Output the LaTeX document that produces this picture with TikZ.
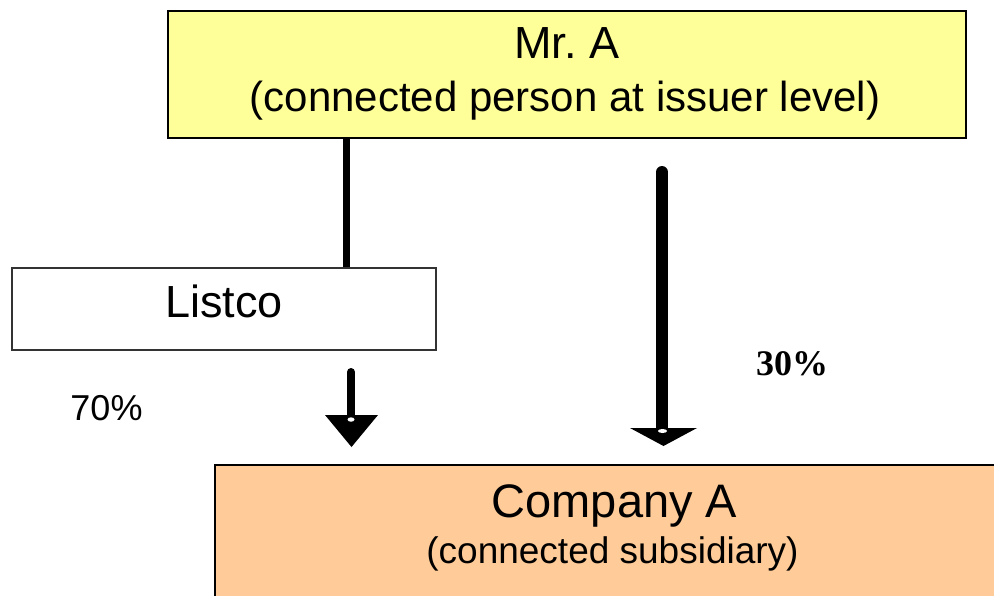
\documentclass[tikz,border=0pt]{standalone}
\usepackage{fontspec}
\setmainfont{Liberation Sans}
\newfontfamily\timesfont{Liberation Serif}
\definecolor{boxyellow}{HTML}{FFFF99}
\definecolor{boxorange}{HTML}{FFCC99}
\begin{document}
\begin{tikzpicture}[x=1pt,y=-1pt,
  box/.style={draw=black, line width=1.5pt, inner sep=0pt},
  lbl/.style={anchor=base, inner sep=0pt},
  conn/.style={line width=7pt},
  shaft/.style={line cap=round},
]
\useasboundingbox (0,0) rectangle (994,595);
\clip (0,0) rectangle (994,595);
% boxes
\node[box, fill=boxyellow, minimum width=798pt, minimum height=127pt] (mra) at (567,74.5) {};
\node[box, draw=black!80, line width=1.2pt, fill=white, minimum width=424pt, minimum height=82pt] (lst) at (224,309) {};
\path[fill=boxorange] (215,465) rectangle (1000,600);
\draw[line width=1.5pt] (215,600) -- (215,465) -- (1000,465);
\node[inner sep=0pt, minimum width=799pt, minimum height=130pt] (coa) at (614.5,530) {};
% texts
\node[lbl, font=\fontsize{45}{45}\selectfont] (mratitle) at (567,58) {Mr.\ A};
\node[lbl, font=\fontsize{42}{42}\selectfont] (mrasub) at (565,111) {(connected person at issuer level)};
\node[lbl, font=\fontsize{45}{45}\selectfont] (lsttext) at (224,317) {Listco};
\node[lbl, font=\fontsize{47}{47}\selectfont] (coatitle) at (614.5,517) {Company A};
\node[lbl, font=\fontsize{37}{37}\selectfont] (coasub) at (612.5,563) {(connected subsidiary)};
\node[lbl, font=\fontsize{36}{36}\selectfont] (p70) at (106.5,420) {70\%};
\node[lbl, font=\fontsize{36}{36}\selectfont\timesfont\bfseries] (p30) at (792,375) {30\%};
% connector Mr. A -- Listco
\coordinate (ctop) at (346,138);
\draw[conn] (ctop) -- (ctop |- lst.north);
% small arrow Listco -> Company A
\coordinate (satop) at (351,372);
\coordinate (satip) at (351.5,447);
\draw[shaft, line width=8pt] (satop) -- (351,418);
\fill (325,415) -- (378,415) -- (satip) -- cycle;
\fill[white] (351,419.5) ellipse (3.5pt and 2.2pt);
% big arrow Mr. A -> Company A
\coordinate (batop) at (662,172);
\coordinate (batip) at (663.5,446);
\draw[shaft, line width=12pt] (batop) -- (662,430);
\fill (630,428) -- (697,428) -- (batip) -- cycle;
\fill[white] (662.5,431) ellipse (4.5pt and 2pt);
\end{tikzpicture}
\end{document}
